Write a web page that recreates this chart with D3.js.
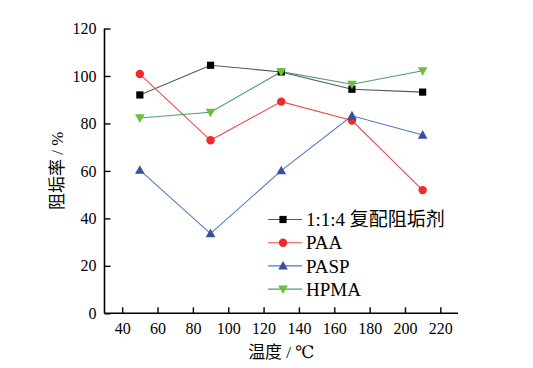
<!DOCTYPE html>
<html>
<head>
<meta charset="utf-8">
<script src="https://cdn.jsdelivr.net/npm/d3@7"></script>
<style>
  body { margin: 0; background: #fff; }
  svg text { font-family: 'Liberation Serif', 'DejaVu Serif', 'Noto Sans CJK SC', serif !important; }
</style>
</head>
<body>
<div class="chartWrapper"></div>
<script>
// data
var temps = [50, 90, 130, 170, 210];
var seriesNames = ['1:1:4 复配阻垢剂', 'PAA', 'PASP', 'HPMA'];
var fuPei = [92.0, 104.5, 101.7, 94.4, 93.2];
var paa   = [100.8, 72.9, 89.2, 81.2, 51.9];
var pasp  = [60.3, 33.6, 60.1, 83.2, 75.1];
var hpma  = [82.3, 84.7, 101.8, 96.5, 102.2];
var xTicks = [40, 60, 80, 100, 120, 140, 160, 180, 200, 220];
var yTicks = [0, 20, 40, 60, 80, 100, 120];

var width = 533, height = 368;
var plot = { left: 104.5, right: 458, top: 28.5, bottom: 313.3 };

var svg = d3.select('.chartWrapper')
  .append('svg')
  .attr('width', width)
  .attr('height', height);

var xScale = d3.scaleLinear().domain([30, 230]).range([plot.left, plot.right]);
var yScale = d3.scaleLinear().domain([0, 120]).range([plot.bottom, plot.top]);

var styles = [
  { line: '#555555', fill: '#000000', shape: 'square' },
  { line: '#ef4a4a', fill: '#ee2a2a', shape: 'circle' },
  { line: '#4c78c8', fill: '#3a4fa0', shape: 'up' },
  { line: '#4aa070', fill: '#6cbf3c', shape: 'down' }
];
var allSeries = [fuPei, paa, pasp, hpma];

function symbolPath(shape) {
  if (shape === 'square') return 'M-3.6,-3.6H3.6V3.6H-3.6Z';
  if (shape === 'up') return 'M0,-5L4.8,3.6H-4.8Z';
  if (shape === 'down') return 'M0,5L4.8,-3.6H-4.8Z';
  return null;
}
function drawMarker(g, shape, fill) {
  if (shape === 'circle') {
    g.append('circle').attr('r', 4.2).attr('fill', fill);
  } else {
    g.append('path').attr('d', symbolPath(shape)).attr('fill', fill);
  }
}

// axes
var xAxis = d3.axisBottom(xScale).tickValues(xTicks).tickSize(-6).tickPadding(9);
var yAxis = d3.axisLeft(yScale).tickValues(yTicks).tickSize(-6).tickPadding(8);

var gx = svg.append('g')
  .attr('class', 'axis xAxis')
  .attr('transform', 'translate(0,' + plot.bottom + ')')
  .call(xAxis);
var gy = svg.append('g')
  .attr('class', 'axis yAxis')
  .attr('transform', 'translate(' + plot.left + ',0)')
  .call(yAxis);
[gx, gy].forEach(function (g) {
  g.attr('font-family', null).attr('font-size', null);
  g.select('.domain').attr('stroke', '#000').attr('stroke-width', 1.6);
  g.selectAll('.tick line').attr('stroke', '#000').attr('stroke-width', 1.4);
  g.selectAll('.tick text')
    .attr('font-size', '16px')
    .attr('fill', '#000');
});
gx.select('.domain').attr('d', 'M' + plot.left + ',0H' + plot.right);
gy.select('.domain').attr('d', 'M0,' + plot.bottom + 'V' + plot.top);

// lines + markers
var line = d3.line()
  .x(function (d, i) { return xScale(temps[i]); })
  .y(function (d) { return yScale(d); });

allSeries.forEach(function (vals, s) {
  svg.append('path')
    .datum(vals)
    .attr('fill', 'none')
    .attr('stroke', styles[s].line)
    .attr('stroke-width', 1.1)
    .attr('d', line);
});
allSeries.forEach(function (vals, s) {
  vals.forEach(function (v, i) {
    var g = svg.append('g')
      .attr('transform', 'translate(' + xScale(temps[i]) + ',' + yScale(v) + ')');
    drawMarker(g, styles[s].shape, styles[s].fill);
  });
});

// legend
var legend = svg.append('g').attr('transform', 'translate(268,219.5)');
seriesNames.forEach(function (name, i) {
  var row = legend.append('g').attr('transform', 'translate(0,' + (i * 23.2) + ')');
  row.append('line')
    .attr('x1', 0).attr('x2', 34).attr('y1', 0).attr('y2', 0)
    .attr('stroke', styles[i].line).attr('stroke-width', 1.1);
  var m = row.append('g').attr('transform', 'translate(15,0)');
  drawMarker(m, styles[i].shape, styles[i].fill);
  row.append('text')
    .attr('x', 38).attr('y', 0).attr('dy', '0.35em')
    .attr('font-size', '19px')
    .text(name);
});

// axis titles
svg.append('text')
  .attr('x', (plot.left + plot.right) / 2)
  .attr('y', 358)
  .attr('text-anchor', 'middle')
  .attr('font-size', '17px')
  .text('温度 / ℃');
svg.append('text')
  .attr('transform', 'translate(57,' + ((plot.top + plot.bottom) / 2) + ') rotate(-90)')
  .attr('text-anchor', 'middle')
  .attr('dy', '0.35em')
  .attr('font-size', '17px')
  .text('阻垢率 / %');
</script>
</body>
</html>
